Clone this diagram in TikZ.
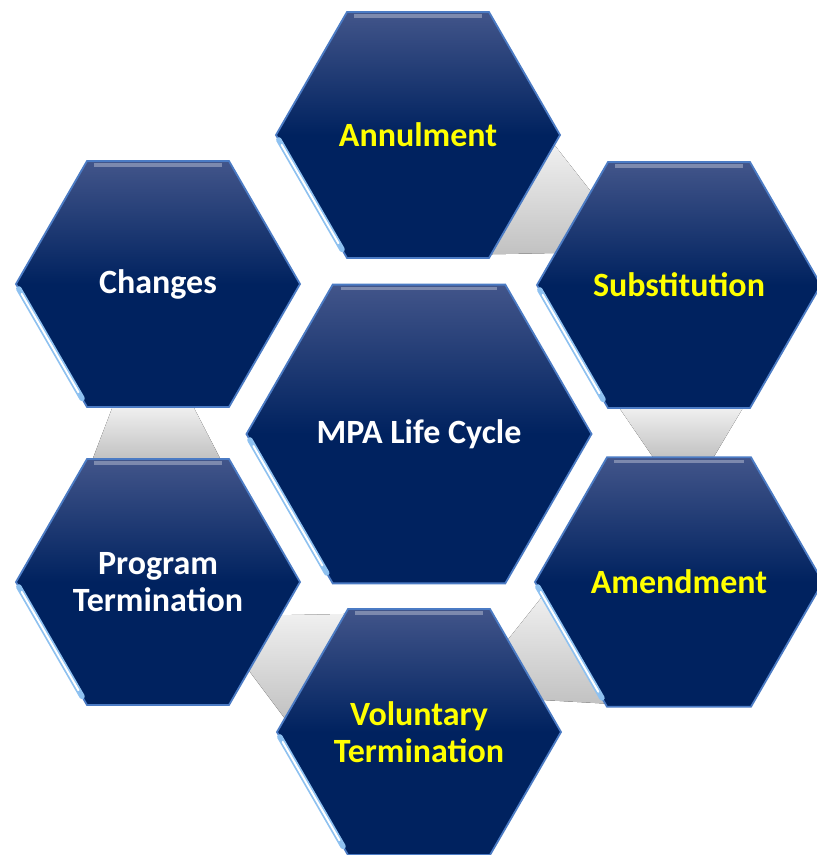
\documentclass[tikz,border=0pt]{standalone}
\usepackage{fontspec}
\setmainfont{Carlito}
\usepackage{xcolor}
\usepackage{tikz}
\usetikzlibrary{shapes.geometric,calc,backgrounds}
\definecolor{hextop}{HTML}{42558A}
\definecolor{hexbot}{HTML}{00225F}
\definecolor{hexedge}{HTML}{4B7BC4}
\definecolor{hexshine}{HTML}{8EC1F0}
\definecolor{labelyellow}{HTML}{FFFF00}
\tikzset{
  hexcell/.style={regular polygon, regular polygon sides=6, minimum size=284pt, inner sep=0pt, outer sep=0pt, draw=hexedge, line width=1.8pt, top color=hextop, bottom color=hexbot, middle color=hexbot, text=white, align=center, font=\fontsize{34}{37}\selectfont\bfseries},
  bigcell/.style={hexcell, minimum size=345pt},
  link/.style={top color=gray!12, bottom color=gray!48, draw=none},
  shine/.style={line width=5.5pt, hexshine, line cap=round},
  glint/.style={line width=2pt, white, line cap=round},
  bevel/.style={line width=3.5pt, hextop!55!white, opacity=0.7},
}

\begin{document}
\begin{tikzpicture}[x=1pt, y=-1pt]%
\useasboundingbox (0,0) rectangle (817,855);%
\node[hexcell, text=labelyellow] (ann) at (418,135) {Annulment};%
\node[hexcell, text=labelyellow] (sub) at (679,285) {Substitution};%
\node[hexcell] (chg) at (158,284) {Changes};%
\node[bigcell] (ctr) at (419,434) {MPA Life Cycle};%
\node[hexcell] (prg) at (158,582) {Program\\Termination};%
\node[hexcell, text=labelyellow] (amd) at (679,582) {Amendment};%
\node[hexcell, text=labelyellow] (vol) at (419,732) {Voluntary\\Termination};%
\begin{scope}[on background layer]%
\fill[link] ($(ann.0)!0.08!(ann.300)$) -- ($(sub.120)!0.24!(sub.180)$) -- ($(sub.120)!0.74!(sub.180)$) -- ($(ann.0)!0.97!(ann.300)$) -- cycle;%
\fill[link] ($(sub.240)!0.08!(sub.300)$) -- ($(sub.240)!0.95!(sub.300)$) -- ($(amd.120)!0.74!(amd.60)$) -- ($(amd.120)!0.32!(amd.60)$) -- cycle;%
\fill[link] ($(chg.240)!0.18!(chg.300)$) -- ($(chg.240)!0.75!(chg.300)$) -- ($(prg.120)!0.94!(prg.60)$) -- ($(prg.120)!0.04!(prg.60)$) -- cycle;%
\fill[link] ($(prg.0)!0.27!(prg.300)$) -- ($(vol.120)!0.04!(vol.180)$) -- ($(vol.120)!0.89!(vol.180)$) -- ($(prg.0)!0.72!(prg.300)$) -- cycle;%
\fill[link] ($(vol.60)!0.25!(vol.0)$) -- ($(amd.180)!0.11!(amd.240)$) -- ($(amd.180)!0.975!(amd.240)$) -- ($(vol.60)!0.74!(vol.0)$) -- cycle;%
\end{scope}%
\draw[bevel] ($(ann.120)!0.05!(ann.60)+(0,4)$) -- ($(ann.120)!0.95!(ann.60)+(0,4)$);%
\draw[bevel] ($(sub.120)!0.05!(sub.60)+(0,4)$) -- ($(sub.120)!0.95!(sub.60)+(0,4)$);%
\draw[bevel] ($(chg.120)!0.05!(chg.60)+(0,4)$) -- ($(chg.120)!0.95!(chg.60)+(0,4)$);%
\draw[bevel] ($(ctr.120)!0.05!(ctr.60)+(0,4)$) -- ($(ctr.120)!0.95!(ctr.60)+(0,4)$);%
\draw[bevel] ($(prg.120)!0.05!(prg.60)+(0,4)$) -- ($(prg.120)!0.95!(prg.60)+(0,4)$);%
\draw[bevel] ($(amd.120)!0.05!(amd.60)+(0,4)$) -- ($(amd.120)!0.95!(amd.60)+(0,4)$);%
\draw[bevel] ($(vol.120)!0.05!(vol.60)+(0,4)$) -- ($(vol.120)!0.95!(vol.60)+(0,4)$);%
\draw[shine] ($(ann.180)!0.04!(ann.240)$) -- ($(ann.180)!0.93!(ann.240)$);%
\draw[shine] ($(sub.180)!0.04!(sub.240)$) -- ($(sub.180)!0.93!(sub.240)$);%
\draw[shine] ($(chg.180)!0.04!(chg.240)$) -- ($(chg.180)!0.93!(chg.240)$);%
\draw[shine] ($(ctr.180)!0.04!(ctr.240)$) -- ($(ctr.180)!0.93!(ctr.240)$);%
\draw[shine] ($(prg.180)!0.04!(prg.240)$) -- ($(prg.180)!0.93!(prg.240)$);%
\draw[shine] ($(amd.180)!0.04!(amd.240)$) -- ($(amd.180)!0.93!(amd.240)$);%
\draw[shine] ($(vol.180)!0.04!(vol.240)$) -- ($(vol.180)!0.93!(vol.240)$);%
\draw[glint] ($(ann.180)!0.08!(ann.240)$) -- ($(ann.180)!0.88!(ann.240)$);%
\draw[glint] ($(sub.180)!0.08!(sub.240)$) -- ($(sub.180)!0.88!(sub.240)$);%
\draw[glint] ($(chg.180)!0.08!(chg.240)$) -- ($(chg.180)!0.88!(chg.240)$);%
\draw[glint] ($(ctr.180)!0.08!(ctr.240)$) -- ($(ctr.180)!0.88!(ctr.240)$);%
\draw[glint] ($(prg.180)!0.08!(prg.240)$) -- ($(prg.180)!0.88!(prg.240)$);%
\draw[glint] ($(amd.180)!0.08!(amd.240)$) -- ($(amd.180)!0.88!(amd.240)$);%
\draw[glint] ($(vol.180)!0.08!(vol.240)$) -- ($(vol.180)!0.88!(vol.240)$);%
\end{tikzpicture}
\end{document}
